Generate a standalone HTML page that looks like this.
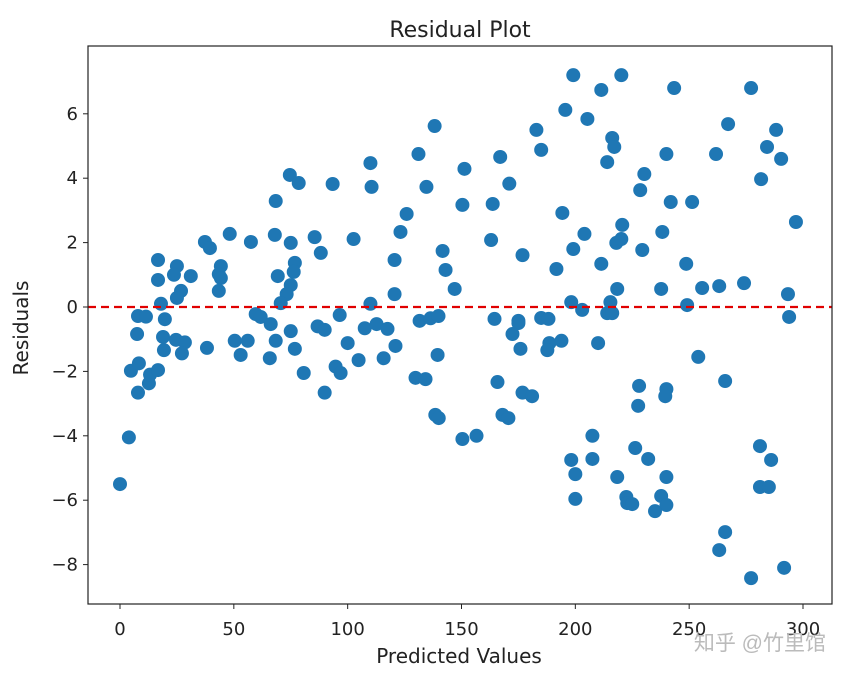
<!DOCTYPE html>
<html><head><meta charset="utf-8"><style>
html,body{margin:0;padding:0;background:#fff;}
svg text{font-family:"DejaVu Sans","Liberation Sans",sans-serif;fill:#222;}
</style></head><body>
<svg id="chart" width="848" height="676" viewBox="0 0 848 676" xmlns="http://www.w3.org/2000/svg">
<rect width="848" height="676" fill="#fff"/>
<text x="460" y="37" font-size="22" text-anchor="middle">Residual Plot</text>
<g id="marks"></g>
<rect x="88" y="46" width="744" height="558" fill="none" stroke="#222" stroke-width="1.2"/>
<g id="xticks"></g><g id="yticks"></g>
<text x="459" y="663" font-size="20" text-anchor="middle">Predicted Values</text>
<text transform="translate(28,328) rotate(-90)" font-size="20" text-anchor="middle">Residuals</text>
<text x="826" y="650" font-size="21" text-anchor="end" style="font-family:'Liberation Sans','Noto Sans CJK SC',sans-serif;fill:#bbb">知乎 @竹里馆</text>
</svg>
<script>
const predicted = [0,3.9,4.8,7.9,7.9,7.5,8.3,11.4,12.7,13.2,16.7,19.7,18.9,19.3,24.6,28.5,27.2,38.2,16.7,16.7,18,25,23.7,31.1,26.8,25,37.3,39.5,48.2,44.3,43.4,44.3,43.4,50.4,56.1,53,59.6,61.8,66.2,68.4,65.8,75,76.8,80.7,86.8,89.9,96.5,100,104.8,94.7,96.9,89.9,107.5,112.7,117.5,115.8,121,129.8,134.2,131.6,136.4,139.9,139.5,138.5,140,150.4,110,57.5,68,68.4,74.6,78.5,75,76.8,76.3,69.3,75,73.2,70.6,85.5,88.2,93.4,102.6,110,110.5,120.6,125.9,123.2,120.6,131.1,134.6,138.2,141.7,143,147,151.3,150.4,167,171,163.7,163,176.8,164.5,175,185,188.2,182.9,185,194.3,191.7,199.1,195.6,205.3,211.4,220.2,216.2,217.1,214,204,199.1,211.4,220.6,218,220.2,218.4,198.2,203,215.4,214,216.2,230.3,228.5,240,243.4,241.9,251.3,229.4,238.2,248.7,237.7,255.7,263.2,274.1,249.1,261.8,267.1,277.2,288.2,284.2,290.4,281.6,296.9,293.4,293.9,175,172.4,175.9,188.6,193.9,187.7,210,254,265.8,165.8,176.8,181,168,170.6,156.6,228,240,239.5,227.6,207.5,198.2,207.5,200,200,226.3,232,218.4,240,222.4,222.8,225,237.7,240,235,281.1,286,281.1,285,265.8,263.2,277.2,291.7];
const residuals = [-5.5,-4.05,-1.98,-0.28,-2.66,-0.84,-1.75,-0.3,-2.37,-2.1,-1.96,-0.38,-0.93,-1.34,-1.02,-1.1,-1.44,-1.27,1.46,0.84,0.1,1.27,1.0,0.96,0.5,0.28,2.02,1.83,2.27,1.27,1.02,0.9,0.5,-1.05,-1.05,-1.49,-0.22,-0.31,-0.53,-1.05,-1.59,-0.75,-1.3,-2.05,-0.6,-0.71,-0.25,-1.12,-1.65,-1.85,-2.05,-2.66,-0.66,-0.53,-0.68,-1.59,-1.21,-2.2,-2.24,-0.43,-0.35,-0.28,-1.49,-3.35,-3.45,-4.1,0.1,2.02,2.24,3.29,4.1,3.85,1.99,1.37,1.09,0.96,0.68,0.4,0.12,2.17,1.68,3.82,2.11,4.47,3.73,1.46,2.89,2.33,0.4,4.75,3.73,5.62,1.74,1.15,0.56,4.29,3.17,4.66,3.83,3.2,2.08,1.61,-0.37,-0.43,-0.34,-0.37,5.5,4.88,2.92,1.18,7.2,6.12,5.84,6.74,7.2,5.25,4.97,4.5,2.27,1.8,1.34,2.55,1.99,2.11,0.56,0.15,-0.09,0.15,-0.19,-0.19,4.13,3.63,4.75,6.8,3.26,3.26,1.77,2.33,1.34,0.56,0.59,0.65,0.74,0.06,4.75,5.68,6.8,5.5,4.97,4.6,3.97,2.64,0.4,-0.31,-0.5,-0.84,-1.3,-1.12,-1.05,-1.34,-1.12,-1.55,-2.3,-2.33,-2.66,-2.77,-3.35,-3.45,-4.0,-2.45,-2.55,-2.77,-3.07,-4.0,-4.75,-4.72,-5.19,-5.96,-4.38,-4.72,-5.28,-5.28,-5.9,-6.09,-6.12,-5.87,-6.15,-6.34,-4.32,-4.75,-5.59,-5.59,-6.99,-7.55,-8.42,-8.1];
const xTickValues = [0,50,100,150,200,250,300];
const yTickValues = [6,4,2,0,-2,-4,-6,-8];
const xTickLabels = ["0","50","100","150","200","250","300"];
const yTickLabels = ["6","4","2","0","\u22122","\u22124","\u22126","\u22128"];
const refLine = 0;

const NS="http://www.w3.org/2000/svg";
const xs = v => 120 + v*(803-120)/300;
const ys = v => 307 - v*32.2;
function mk(tag, attrs, parent){const e=document.createElementNS(NS,tag);for(const k in attrs)e.setAttribute(k,attrs[k]);parent.appendChild(e);return e;}
const marks=document.getElementById('marks');
predicted.forEach((p,i)=>{
  const c=mk('circle',{cx:xs(p),cy:ys(residuals[i]),r:7,fill:'#1f77b4'},marks);
  
  
});
const ln=mk('line',{x1:88,x2:832,y1:ys(refLine),y2:ys(refLine),stroke:'#e00000','stroke-width':2.2,'stroke-dasharray':'8,5'},marks);


const xt=document.getElementById('xticks');
xTickValues.forEach((v,i)=>{
  const x=xs(v);
  const t=mk('line',{x1:x,x2:x,y1:604,y2:609,stroke:'#222'},xt);
  
  
  const l=mk('text',{x:x,y:635,'font-size':18,'text-anchor':'middle'},xt);
  l.textContent=xTickLabels[i];
  
  
});
const yt=document.getElementById('yticks');
yTickValues.forEach((v,i)=>{
  const y=ys(v);
  const t=mk('line',{x1:83,x2:88,y1:y,y2:y,stroke:'#222'},yt);
  
  
  const l=mk('text',{x:78,y:y+6,'font-size':18,'text-anchor':'end'},yt);
  l.textContent=yTickLabels[i];
  
  
});
</script>
</body></html>
